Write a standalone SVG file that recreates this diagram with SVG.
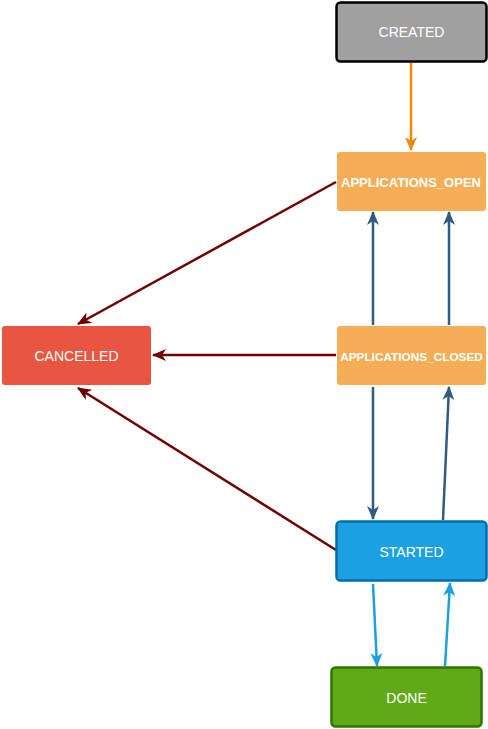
<svg xmlns="http://www.w3.org/2000/svg" width="488" height="729" viewBox="0 0 488 729">
<defs>
<style>
.lbl{font-family:"Liberation Sans",Arial,sans-serif;font-size:14px;fill:#ffffff;text-anchor:middle;dominant-baseline:central}
.bold{font-weight:bold}
.e{fill:none;stroke-width:2.5}
</style>
<marker id="aOr" viewBox="0 0 14 12" refX="13" refY="6" markerWidth="14" markerHeight="12" markerUnits="userSpaceOnUse" orient="auto"><path d="M0,0 L14,6 L0,12 L4,6 Z" fill="#f08705"/></marker>
<marker id="aRed" viewBox="0 0 14 12" refX="13" refY="6" markerWidth="14" markerHeight="12" markerUnits="userSpaceOnUse" orient="auto"><path d="M0,0 L14,6 L0,12 L4,6 Z" fill="#6f0000"/></marker>
<marker id="aDb" viewBox="0 0 14 12" refX="13" refY="6" markerWidth="14" markerHeight="12" markerUnits="userSpaceOnUse" orient="auto"><path d="M0,0 L14,6 L0,12 L4,6 Z" fill="#2f5c7f"/></marker>
<marker id="aLb" viewBox="0 0 14 12" refX="13" refY="6" markerWidth="14" markerHeight="12" markerUnits="userSpaceOnUse" orient="auto"><path d="M0,0 L14,6 L0,12 L4,6 Z" fill="#1ba1e2"/></marker>
</defs>
<g id="connectors">
<path class="e" stroke="#f08705" d="M411,63 L411,150" marker-end="url(#aOr)"/>
<path class="e" stroke="#6f0000" d="M336,182 L78,324" marker-end="url(#aRed)"/>
<path class="e" stroke="#6f0000" d="M336,355 L153,355" marker-end="url(#aRed)"/>
<path class="e" stroke="#6f0000" d="M336,550 L78,388" marker-end="url(#aRed)"/>
<path class="e" stroke="#2f5c7f" d="M373,325 L373,212" marker-end="url(#aDb)"/>
<path class="e" stroke="#2f5c7f" d="M449,325 L449,212" marker-end="url(#aDb)"/>
<path class="e" stroke="#2f5c7f" d="M373,387 L373,519" marker-end="url(#aDb)"/>
<path class="e" stroke="#2f5c7f" d="M443,520 L449,387" marker-end="url(#aDb)"/>
<path class="e" stroke="#1ba1e2" d="M373,584 L377,666" marker-end="url(#aLb)"/>
<path class="e" stroke="#1ba1e2" d="M445,666 L450,583" marker-end="url(#aLb)"/>
</g>
<g id="created">
<rect x="336.5" y="2.5" width="150" height="59" rx="4" fill="#a0a0a0" stroke="#000000" stroke-width="2.5"/>
<text class="lbl" x="411.5" y="32">CREATED</text>
</g>
<g id="applications_open">
<rect x="337" y="152" width="149" height="59" rx="3" fill="#f5ae56"/>
<text class="lbl bold" x="411" y="182" style="font-size:13px">APPLICATIONS_OPEN</text>
</g>
<g id="applications_closed">
<rect x="337" y="326" width="149" height="59" rx="3" fill="#f5ae56"/>
<text class="lbl bold" x="411.5" y="357" style="font-size:11.8px">APPLICATIONS_CLOSED</text>
</g>
<g id="cancelled">
<rect x="2" y="326" width="149" height="59" rx="3" fill="#e85642"/>
<text class="lbl" x="76.5" y="356">CANCELLED</text>
</g>
<g id="started">
<rect x="336.5" y="521.5" width="150" height="59" rx="4" fill="#1ba1e2" stroke="#006eaf" stroke-width="2.5"/>
<text class="lbl" x="411.5" y="552">STARTED</text>
</g>
<g id="done">
<rect x="331.5" y="667.5" width="150" height="59" rx="4" fill="#60a917" stroke="#2d7600" stroke-width="2.5"/>
<text class="lbl" x="406.5" y="698">DONE</text>
</g>
</svg>
